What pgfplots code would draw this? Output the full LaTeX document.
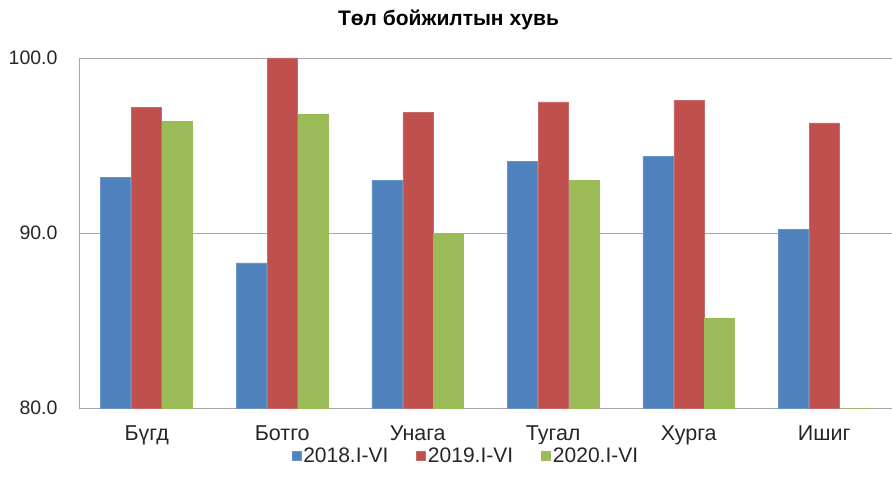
\documentclass[border=0pt]{standalone}
\usepackage{pgfplots}
\pgfplotsset{compat=1.18}
\usepackage{fontspec}
\setmainfont{Liberation Sans}
\definecolor{cblue}{HTML}{4F81BD}
\definecolor{cred}{HTML}{C0504D}
\definecolor{cgreen}{HTML}{9BBB59}
\definecolor{gridc}{HTML}{A6A6A6}
\begin{document}
\begin{tikzpicture}[x=1pt,y=1pt]
\useasboundingbox (-79pt,-80pt) rectangle (813pt,408pt);
\begin{axis}[
  scale only axis,
  width=813pt, height=350pt,
  xmin=-0.5, xmax=5.5,
  ymin=80, ymax=100,
  ytick={80,90,100},
  xtick={0,1,2,3,4,5},
  xticklabels={Бүгд,Ботго,Унага,Тугал,Хурга,Ишиг},
  ybar=1pt, bar width=30pt,
  axis x line*=bottom,
  axis y line*=left,
  axis line style={gridc, line width=0.8pt},
  ymajorgrids,
  grid style={gridc, line width=0.8pt},
  major tick length=0pt,
  tick style={draw=none},
  /pgf/number format/.cd, fixed, fixed zerofill, precision=1, assume math mode=true,
  /pgfplots/.cd,
  yticklabel style={font=\fontsize{19.5}{22}\selectfont, text=black!85, xshift=-18pt},
  xticklabel style={font=\fontsize{21.5}{24}\selectfont, text=black!85, yshift=-14pt},
  legend style={at={(0.476,-0.136)}, anchor=center, draw=none, legend columns=3,
    font=\fontsize{21}{24}\selectfont, text=black!85,
    /tikz/every even column/.append style={column sep=26pt}},
  legend image code/.code={\fill[#1] (-4pt,-4.5pt) rectangle (5pt,4.5pt);},
  clip=false,
]
\addplot[fill=cblue, draw=cblue!85!white, line width=0.5pt] coordinates {(0,93.2) (1,88.3) (2,93.0) (3,94.1) (4,94.4) (5,90.2)};
\addplot[fill=cred, draw=cred!85!white, line width=0.5pt] coordinates {(0,97.2) (1,100.0) (2,96.9) (3,97.5) (4,97.6) (5,96.3)};
\addplot[fill=cgreen, draw=cgreen, line width=0.8pt] coordinates {(0,96.4) (1,96.8) (2,90.0) (3,93.0) (4,85.1) (5,80.0)};
\legend{2018.I-VI,2019.I-VI,2020.I-VI}
\node[font=\fontsize{21}{24}\selectfont\bfseries, text=black] at (rel axis cs:0.4545,1.109) {Төл бойжилтын хувь};
\end{axis}
\end{tikzpicture}
\end{document}
